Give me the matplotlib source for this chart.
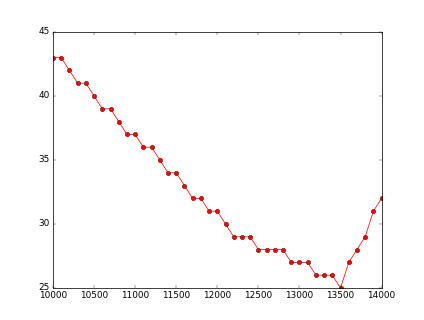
import matplotlib
matplotlib.use('Agg')
import matplotlib.pyplot as plt

x_values = list(range(10000, 14001, 100))
y_values = [43, 43, 42, 41, 41, 40, 39, 39, 38, 37, 37, 36, 36, 35, 34, 34,
            33, 32, 32, 31, 31, 30, 29, 29, 29, 28, 28, 28, 28, 27, 27, 27,
            26, 26, 26, 25, 27, 28, 29, 31, 32]

# classic look, drawn at a low dpi so the whole figure scales down like the original
plt.style.use('classic')
fig = plt.figure(figsize=(8, 320 / 53), dpi=53)
ax = fig.add_subplot(111)
ax.plot(x_values, y_values, 'r-o')
fig.savefig('out.png', dpi=53)
